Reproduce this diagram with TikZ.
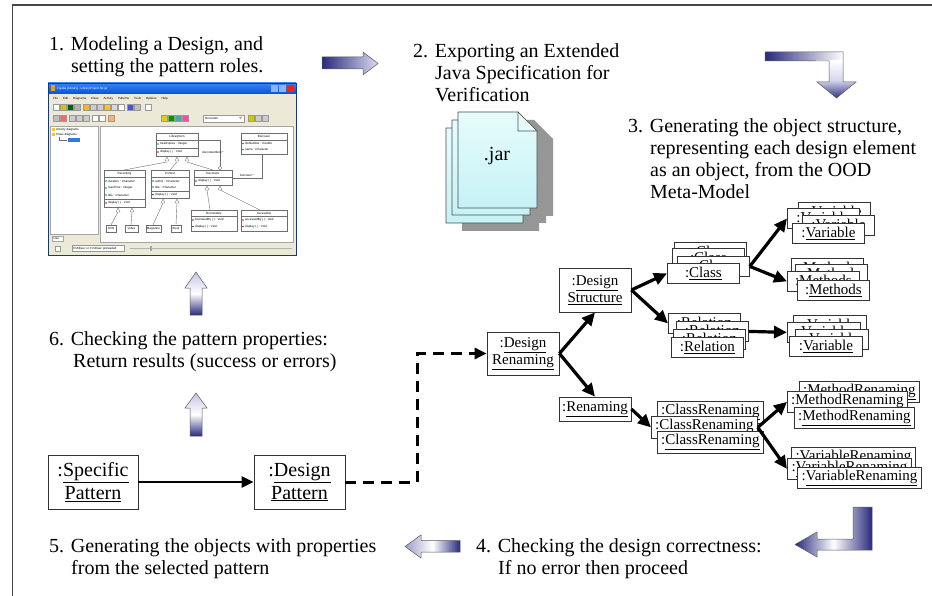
\documentclass[tikz,border=0pt]{standalone}
\usepackage{fontspec}
\setmainfont{Liberation Serif}
\newfontfamily\uifont{Liberation Sans}
\usetikzlibrary{arrows.meta}

\definecolor{navy}{RGB}{40,42,124}
\definecolor{lav}{RGB}{196,196,228}
\definecolor{framegray}{RGB}{70,70,70}
\definecolor{xpbg}{RGB}{236,233,216}
\definecolor{xpblue}{RGB}{0,84,227}
\definecolor{xptitle}{RGB}{60,130,240}
\definecolor{pagetop}{RGB}{230,252,252}
\definecolor{pagebot}{RGB}{198,242,246}
\definecolor{pageshadow}{RGB}{150,150,150}
\definecolor{umlgray}{RGB}{110,110,110}

\newcommand\uln[1]{\underline{#1}}

\tikzset{
  caption/.style={anchor=north west, inner sep=0pt, align=left,
    font=\fontsize{20}{22}\selectfont},
  objbig/.style={draw=black!80, fill=white, line width=0.8pt, inner sep=0pt,
    align=center, font=\fontsize{20}{23}\selectfont},
  obj/.style={draw=black!80, fill=white, line width=0.8pt, inner sep=0pt,
    align=center, font=\fontsize{15}{17}\selectfont},
  stackbox/.style={obj, anchor=north west, minimum width=72pt, minimum height=20pt},
  flow/.style={line width=3.2pt, -{Triangle[length=13pt,width=12pt]}},
  flowthin/.style={line width=2.6pt, -{Triangle[length=12pt,width=11pt]}},
  dashflow/.style={line width=3pt, dash pattern=on 11pt off 7pt,
    -{Triangle[length=12pt,width=11pt]}},
  block/.style={draw=black!65, line width=0.5pt},
  page/.style={draw=black!70, line width=0.6pt, top color=pagetop, bottom color=pagebot},
  tiny/.style={inner sep=0pt, font=\uifont\fontsize{3}{3.4}\selectfont},
  umlbox/.style={draw=umlgray, fill=white, line width=0.4pt},
  umlline/.style={draw=umlgray, line width=0.4pt},
  tbicon/.style={draw=gray!80, line width=0.3pt},
}

\begin{document}
\begin{tikzpicture}[x=1pt,y=-1pt]
\useasboundingbox (0,0) rectangle (932,596);
\fill[white] (0,0) rectangle (932,596);

% outer frame
\draw[framegray, line width=1.2pt] (932,5) -- (12.5,5) -- (12.5,596);

% ---------- captions ----------
\node[caption] (cap1) at (49,36) {1. Modeling a Design, and\\\hspace*{22pt}setting the pattern roles.};
\node[caption] (cap2) at (413,43) {2. Exporting an Extended\\\hspace*{22pt}Java Specification for\\\hspace*{22pt}Verification};
\node[caption] (cap3) at (628,118) {3. Generating the object structure,\\\hspace*{22pt}representing each design element\\\hspace*{22pt}as an object, from the OOD\\\hspace*{22pt}Meta-Model};
\node[caption] (cap6) at (49,331) {6. Checking the pattern properties:\\\hspace*{24pt}Return results (success or errors)};
\node[caption] (cap5) at (49,538) {5. Generating the objects with properties\\\hspace*{22pt}from the selected pattern};
\node[caption] (cap4) at (476,538) {4. Checking the design correctness:\\\hspace*{22pt}If no error then proceed};

% ---------- block arrows between the steps ----------
\path[block, left color=navy, right color=lav!60!white]
  (322,57) -- (363,57) -- (363,52) -- (378,63.5) -- (363,75) -- (363,69) -- (322,69) -- cycle;
\path[block, bottom color=navy, top color=lav, middle color=white]
  (190,315) -- (190,288) -- (185,288) -- (196,272) -- (207,288) -- (202,288) -- (202,315) -- cycle;
\path[block, bottom color=navy, top color=lav, middle color=white]
  (190,436) -- (190,408) -- (185,408) -- (196,393) -- (207,408) -- (202,408) -- (202,436) -- cycle;
\path[block, left color=lav!75!navy, right color=navy, middle color=white]
  (460,540.5) -- (421,540.5) -- (421,535) -- (405,546.5) -- (421,558) -- (421,552) -- (460,552) -- cycle;
\path[block, left color=navy, right color=navy, middle color=white]
  (853,507) -- (872,507) -- (872,550) -- (817,550) -- (817,557) -- (795,544.5) -- (817,532) -- (817,539) -- (853,539) -- cycle;
\begin{scope}
  \clip (765,52) -- (843,52) -- (843,82) -- (856,82) -- (836.5,98) -- (817,82) -- (829,82) -- (829,61) -- (765,61) -- cycle;
  \shade[left color=navy, right color=white] (765,51) rectangle (843,61.5);
  \shade[top color=white, bottom color=navy, middle color=lav!70!white] (816,61) rectangle (857,99);
\end{scope}
\draw[block] (765,52) -- (843,52) -- (843,82) -- (856,82) -- (836.5,98) -- (817,82) -- (829,82) -- (829,61) -- (765,61) -- cycle;

% ---------- .jar document stack ----------
\fill[pageshadow] (462,136) -- (520,136) -- (539,155) -- (539,231) -- (462,231) -- cycle;
\fill[pageshadow] (468,128) -- (527,128) -- (546,147) -- (546,223) -- (468,223) -- cycle;
\fill[pageshadow] (474,120) -- (534,120) -- (553,139) -- (553,216) -- (474,216) -- cycle;
\path[page] (446,128) -- (504,128) -- (523,147) -- (523,223) -- (446,223) -- cycle;
\path[page] (452,120) -- (511,120) -- (530,139) -- (530,215) -- (452,215) -- cycle;
\path[page] (458,112) -- (518,112) -- (537,131) -- (537,208) -- (458,208) -- cycle;
\filldraw[draw=black!70, line width=0.6pt, fill=pagetop] (518,112) -- (518,131) -- (537,131) -- cycle;
\node[anchor=base, inner sep=0pt, font=\fontsize{20}{22}\selectfont] (jar) at (497,161) {.jar};

% ---------- modelling tool window ----------
\fill[xpbg] (48,83) rectangle (296,255);
\shade[top color=xptitle, bottom color=xpblue] (48,83) rectangle (296,94);
\fill[orange!80!yellow] (50.5,85) rectangle (55,91.5);
\node[tiny, anchor=west, text=white] (wtitle) at (57,88.5) {Fujaba [Library] - LibraryProject.fpr.gz};
\fill[xptitle!60!white] (271,85) rectangle (278,92);
\fill[xptitle!60!white] (279,85) rectangle (286,92);
\fill[red!75!orange] (287,85) rectangle (294,92);
\node[tiny, anchor=west] (wmenu) at (53,98.5) {File\hspace{5pt}Edit\hspace{5pt}Diagrams\hspace{5pt}Class\hspace{5pt}Activity\hspace{5pt}Patterns\hspace{5pt}Tools\hspace{5pt}Options\hspace{5pt}Help};
% toolbars
\foreach \x/\c in {53/white,60/yellow!60!olive,67/green!40!black,74/gray!60,
                   83/yellow!50!orange,90/gray!40,97/gray!40,104/yellow!60!orange,111/gray!30,118/white,
                   127/blue!70,134/gray!50,145/white}
  \filldraw[tbicon, fill=\c] (\x,104) rectangle ++(6,6);
\foreach \x/\c in {53/gray!50,60/red!60,69/gray!40,76/gray!40,83/gray!40,92/white,99/white,108/orange!60,
                   161/yellow!70!olive,168/green!60!black,175/teal!70,182/magenta!70,
                   248/yellow!60!olive,255/gray!40,262/gray!40}
  \filldraw[tbicon, fill=\c] (\x,115.5) rectangle ++(6,6);
\filldraw[tbicon, fill=white] (203,115) rectangle (244,122);
\node[tiny, anchor=west] (wcombo) at (205,118.5) {Decorator};
\fill[gray!70] (239,117) -- (242,117) -- (240.5,119.5) -- cycle;
% tree panel, diagram area and status bar
\filldraw[draw=gray!70, line width=0.3pt, fill=white] (50,126) rectangle (98,234);
\fill[yellow!60!orange] (52,128) rectangle (55,131);
\node[tiny, anchor=west] (wtree1) at (56,129.5) {Activity diagrams};
\fill[yellow!60!orange] (52,133) rectangle (55,136);
\node[tiny, anchor=west] (wtree2) at (56,134.5) {Class diagrams};
\draw[umlgray, line width=0.3pt] (59,137) -- (59,140) -- (67,140);
\fill[xpblue!80] (68,138) rectangle (80,142);
\filldraw[draw=gray!70, line width=0.3pt, fill=white] (52,236) rectangle (63,241);
\node[tiny, anchor=west] (wtab) at (53.5,238.5) {Use};
\filldraw[draw=gray!70, line width=0.3pt, fill=white] (100,126) rectangle (293,242);
\filldraw[tbicon, fill=white] (55,246) rectangle (60,251);
\filldraw[tbicon, fill=white] (72,245.5) rectangle (124,251.5);
\node[tiny, anchor=west] (wstatus) at (73,248.5) {0 Millisec or 0 millisec preloaded};
\draw[gray!60, line width=0.4pt] (130,248.5) -- (292,248.5);
\fill[gray!70] (150,246) rectangle (152,251);
\draw[xpblue!70!black, line width=0.6pt] (48,83) rectangle (296,255);

% class diagram inside the tool
\filldraw[umlbox] (156,133) rectangle (198,156);
\draw[umlline] (156,140) -- (198,140) (156,148) -- (198,148);
\node[tiny] (uLib) at (177,136.5) {LibraryItem};
\node[tiny, anchor=west] (uLibA) at (160,144) {totalCopies : Integer};
\node[tiny, anchor=west] (uLibM) at (160,152) {display ( ) : Void};
\fill[teal] (158,144) circle (0.9);
\fill[purple] (158,152) circle (0.9);

\filldraw[umlbox] (241,133) rectangle (287,154);
\draw[umlline] (241,140) -- (287,140);
\node[tiny] (uBor) at (264,136.5) {Borrower};
\node[tiny, anchor=west] (uBorA) at (245,143.5) {lifeNumber : Double};
\node[tiny, anchor=west] (uBorB) at (245,149.5) {name : Character};
\fill[teal] (243,143.5) circle (0.9);
\fill[teal] (243,149.5) circle (0.9);

\filldraw[umlbox] (104,170) rectangle (145,207);
\draw[umlline] (104,177) -- (145,177) (104,199) -- (145,199);
\node[tiny] (uRec) at (124.5,173.5) {Recording};
\node[tiny, anchor=west] (uRecA) at (108,181) {duration : Character};
\node[tiny, anchor=west] (uRecB) at (108,188) {loanTime : Integer};
\node[tiny, anchor=west] (uRecC) at (108,195) {title : Character};
\node[tiny, anchor=west] (uRecM) at (108,203) {display ( ) : Void};
\foreach \y in {181,188,195} \fill[teal] (106,\y) circle (0.9);
\fill[purple] (106,203) circle (0.9);

\filldraw[umlbox] (151,170) rectangle (189,198);
\draw[umlline] (151,177) -- (189,177) (151,191) -- (189,191);
\node[tiny] (uPri) at (170,173.5) {Printed};
\node[tiny, anchor=west] (uPriA) at (155,181) {author : Character};
\node[tiny, anchor=west] (uPriB) at (155,187) {title : Character};
\node[tiny, anchor=west] (uPriM) at (155,194.5) {display ( ) : Void};
\foreach \y in {181,187} \fill[teal] (153,\y) circle (0.9);
\fill[purple] (153,194.5) circle (0.9);

\filldraw[umlbox] (194,170) rectangle (232,185);
\draw[umlline] (194,177) -- (232,177);
\node[tiny] (uDec) at (213,173.5) {Decorator};
\node[tiny, anchor=west] (uDecM) at (198,181) {display ( ) : Void};
\fill[purple] (196,181) circle (0.9);

\filldraw[umlbox] (191,210) rectangle (237,231);
\draw[umlline] (191,216) -- (237,216);
\node[tiny] (uBrw) at (214,213) {Borrowable};
\node[tiny, anchor=west] (uBrwA) at (195,220) {borrowedBy ( ) : Void};
\node[tiny, anchor=west] (uBrwB) at (195,226.5) {display ( ) : Void};
\fill[purple] (193,220) circle (0.9);
\fill[purple] (193,226.5) circle (0.9);

\filldraw[umlbox] (241,210) rectangle (287,231);
\draw[umlline] (241,216) -- (287,216);
\node[tiny] (uAcc) at (264,213) {Accessible};
\node[tiny, anchor=west] (uAccA) at (245,220) {accessedBy ( ) : Void};
\node[tiny, anchor=west] (uAccB) at (245,226.5) {display ( ) : Void};
\fill[purple] (243,220) circle (0.9);
\fill[purple] (243,226.5) circle (0.9);

\filldraw[umlbox] (106,225) rectangle (116,232);
\node[tiny] (uDvd) at (111,228.5) {DVD};
\filldraw[umlbox] (125,225) rectangle (138,232);
\node[tiny] (uVid) at (131.5,228.5) {Video};
\filldraw[umlbox] (146,225) rectangle (161,232);
\node[tiny] (uMag) at (153.5,228.5) {Magazine};
\filldraw[umlbox] (171,225) rectangle (181,232);
\node[tiny] (uBook) at (176,228.5) {Book};

% generalisations and associations
\draw[umlline] (167,162) -- (124,170) (177,162) -- (170,170) (187,162) -- (213,170);
\draw[umlline] (118,212) -- (111,225) (132,212) -- (131,225);
\draw[umlline] (163,203) -- (153,225) (177,203) -- (176,225);
\draw[umlline] (207,190) -- (210,210) (220,190) -- (260,210);
\foreach \x/\y in {167/157,177/157,187/157,118/208,132/208,163/199,177/199,207/186,220/186}
  \filldraw[umlline, fill=white] (\x,\y) -- (\x-2,\y+4) -- (\x+2,\y+4) -- cycle;
\draw[umlline] (198,140) -- (220,140) -- (220,166);
\draw[umlline, fill=white] (220,168) circle (1.8);
\node[tiny] (uAsc1) at (213,152) {decoratedItem *};
\draw[umlline] (232,178) -- (262,178) -- (262,154);
\node[tiny] (uAsc2) at (247,175.5) {borrower *};

% ---------- object structure ----------
\node[objbig, minimum width=90pt, minimum height=54pt] (spec) at (93,482) {:\uln{Specific}\\\uln{Pattern}};
\node[objbig, minimum width=91pt, minimum height=54pt] (dpat) at (299.5,482) {:\uln{Design}\\\uln{Pattern}};

\node[obj, minimum width=72pt, minimum height=43pt] (dren) at (523,353.5) {:\uln{Design}\\\uln{Renaming}};
\node[obj, minimum width=72pt, minimum height=44pt] (dstr) at (595,290) {:\uln{Design}\\\uln{Structure}};
\node[obj, minimum width=72pt, minimum height=24pt] (ren) at (595,409) {:\uln{Renaming}};

\node[stackbox] (cls1) at (674,242) {:\uln{Class}};
\node[stackbox] (cls2) at (672,248) {:\uln{Class}};
\node[stackbox] (cls3) at (677,256) {:\uln{Class}};
\node[stackbox] (cls4) at (667,263) {:\uln{Class}};

\node[stackbox] (varA1) at (798,202) {:\uln{Variable}};
\node[stackbox] (varA2) at (787,208) {:\uln{Variable}};
\node[stackbox] (varA3) at (802,215) {:\uln{Variable}};
\node[stackbox] (varA4) at (792,223) {:\uln{Variable}};

\node[stackbox] (met1) at (791,258) {:\uln{Methods}};
\node[stackbox] (met2) at (795,264) {:\uln{Methods}};
\node[stackbox] (met3) at (787,271) {:\uln{Methods}};
\node[stackbox] (met4) at (797,280) {:\uln{Methods}};

\node[stackbox] (rel1) at (668,313) {:\uln{Relation}};
\node[stackbox] (rel2) at (676,321) {:\uln{Relation}};
\node[stackbox] (rel3) at (673,329) {:\uln{Relation}};
\node[stackbox] (rel4) at (671,337) {:\uln{Relation}};

\node[stackbox, minimum width=73pt] (varB1) at (793,315) {:\uln{Variable}};
\node[stackbox, minimum width=73pt] (varB2) at (787,322) {:\uln{Variable}};
\node[stackbox, minimum width=73pt] (varB3) at (795,329) {:\uln{Variable}};
\node[stackbox, minimum width=73pt] (varB4) at (789,336) {:\uln{Variable}};

\node[stackbox, minimum width=106pt, minimum height=22pt] (cr1) at (657,401) {:\uln{ClassRenaming}};
\node[stackbox, minimum width=106pt, minimum height=22pt] (cr2) at (651,416) {:\uln{ClassRenaming}};
\node[stackbox, minimum width=106pt, minimum height=22pt] (cr3) at (657,431) {:\uln{ClassRenaming}};

\node[stackbox, minimum width=120pt, minimum height=21pt] (mr1) at (799,381) {:\uln{MethodRenaming}};
\node[stackbox, minimum width=120pt, minimum height=21pt] (mr2) at (787,391) {:\uln{MethodRenaming}};
\node[stackbox, minimum width=120pt, minimum height=21pt] (mr3) at (794,407) {:\uln{MethodRenaming}};

\node[stackbox, minimum width=124pt, minimum height=21pt] (vr1) at (791,447) {:\uln{VariableRenaming}};
\node[stackbox, minimum width=124pt, minimum height=21pt] (vr2) at (787,458) {:\uln{VariableRenaming}};
\node[stackbox, minimum width=124pt, minimum height=21pt] (vr3) at (797,467) {:\uln{VariableRenaming}};

% ---------- connectors ----------
\draw[flowthin] (spec.east) -- (dpat.west);
\coordinate (turn) at (417,482);
\draw[dashflow] (dpat.east) -- (turn) |- (dren.west);

\draw[flow] (dren.east) -- (dstr.south);
\draw[flow] (dren.east) -- (ren.north);
\draw[flow] (dstr.east) -- (cls4.west);
\draw[flow] (dstr.east) -- (rel1.west);
\draw[flow] (cls3.east) -- (varA2.west);
\draw[flow] (cls3.east) -- (met3.west);
\draw[flow] (rel2.east) -- (varB2.west);
\draw[flow] (ren.east) -- (cr2.west);
\draw[flow] (cr2.east) -- (mr2.west);
\draw[flow] (cr2.east) -- (vr2.west);
\end{tikzpicture}
\end{document}
